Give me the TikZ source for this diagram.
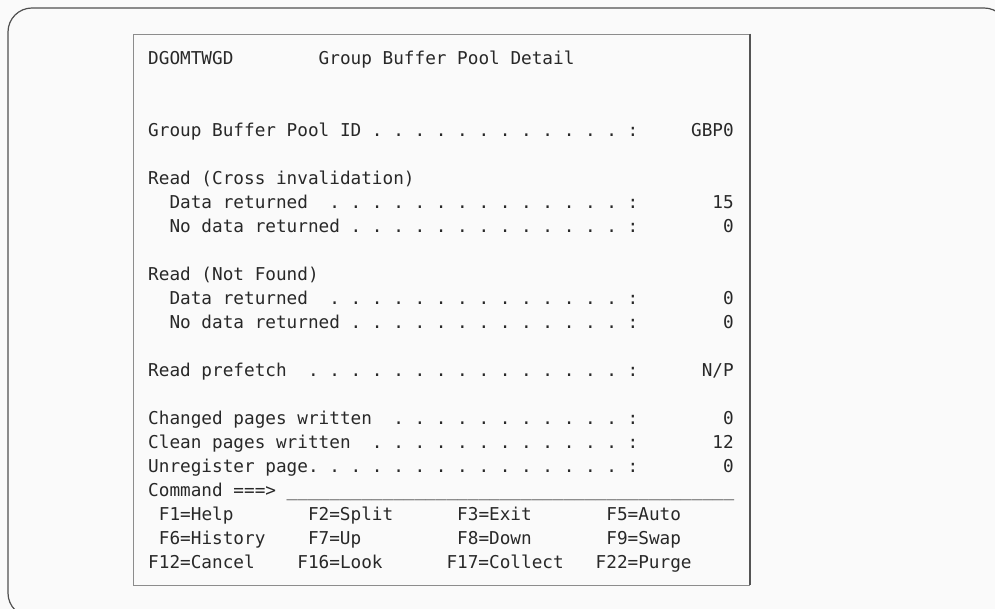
\documentclass[tikz,border=0pt]{standalone}
\usepackage{fontspec}
\usepackage{tikz}
\newfontfamily\scrfont{DejaVu Sans Mono}
\definecolor{paper}{RGB}{250,250,250}
\definecolor{rim}{RGB}{80,80,80}
\definecolor{boxline}{RGB}{140,140,140}
\definecolor{ink}{RGB}{40,40,40}
\newcommand{\scrtext}{\scrfont\fontsize{17.7}{24}\selectfont\frenchspacing}
\tikzset{
  scrline/.style={anchor=base west,inner sep=0pt,text=ink,font=\scrtext},
  scrval/.style={anchor=base east,inner sep=0pt,text=ink,font=\scrtext},
}

\begin{document}
\begin{tikzpicture}[x=1pt,y=-1pt]
\useasboundingbox (0,0) rectangle (995,609);
\clip (0,0) rectangle (995,609);
\fill[paper] (0,0) rectangle (995,609);
%% outer frame
\draw[rim,line width=1.2pt,rounded corners=24pt] (8,8) rectangle (1008,617);
%% screen box
\draw[boxline,line width=0.8pt] (750,34)--(133,34)--(133,585)--(750,585);
\draw[boxline!60!black,line width=2pt] (750,33.6)--(750,585.4);
%% header
\node[scrline] (panel) at (148,64.5) {DGOMTWGD};
\node[scrline] (title) at (318.5,64.5) {Group Buffer Pool Detail};
%% pool id
\node[scrline] (pool) at (148,136.5) {Group Buffer Pool ID . . . . . . . . . . . . :};
\node[scrval] (poolv) at (734,136.5) {GBP0};
%% cross invalidation
\node[scrline] (xi) at (148,184.5) {Read (Cross invalidation)};
\node[scrline] (xidata) at (148,208.5) {~~Data returned~ . . . . . . . . . . . . . . :};
\node[scrval] (xidatav) at (734,208.5) {15};
\node[scrline] (xinone) at (148,232.5) {~~No data returned . . . . . . . . . . . . . :};
\node[scrval] (xinonev) at (734,232.5) {0};
%% not found
\node[scrline] (nf) at (148,280.5) {Read (Not Found)};
\node[scrline] (nfdata) at (148,304.5) {~~Data returned~ . . . . . . . . . . . . . . :};
\node[scrval] (nfdatav) at (734,304.5) {0};
\node[scrline] (nfnone) at (148,328.5) {~~No data returned . . . . . . . . . . . . . :};
\node[scrval] (nfnonev) at (734,328.5) {0};
%% prefetch
\node[scrline] (pref) at (148,376.5) {Read prefetch~ . . . . . . . . . . . . . . . :};
\node[scrval] (prefv) at (734,376.5) {N/P};
%% pages
\node[scrline] (chg) at (148,424.5) {Changed pages written~ . . . . . . . . . . . :};
\node[scrval] (chgv) at (734,424.5) {0};
\node[scrline] (cln) at (148,448.5) {Clean pages written~ . . . . . . . . . . . . :};
\node[scrval] (clnv) at (734,448.5) {12};
\node[scrline] (unreg) at (148,472.5) {Unregister page. . . . . . . . . . . . . . . :};
\node[scrval] (unregv) at (734,472.5) {0};
%% command line
\node[scrline] (cmd) at (148,496.5) {Command ===> \foreach \i in {1,...,42}{\_}};
%% function keys
\node[scrline] (fone) at (158.7,520.5) {F1=Help};
\node[scrline] (ftwo) at (307.8,520.5) {F2=Split};
\node[scrline] (fthree) at (457.0,520.5) {F3=Exit};
\node[scrline] (ffive) at (606.2,520.5) {F5=Auto};
\node[scrline] (fsix) at (158.7,544.5) {F6=History};
\node[scrline] (fseven) at (307.8,544.5) {F7=Up};
\node[scrline] (feight) at (457.0,544.5) {F8=Down};
\node[scrline] (fnine) at (606.2,544.5) {F9=Swap};
\node[scrline] (ftwelve) at (148,568.5) {F12=Cancel};
\node[scrline] (fsixteen) at (297.2,568.5) {F16=Look};
\node[scrline] (fseventeen) at (446.3,568.5) {F17=Collect};
\node[scrline] (ftwentytwo) at (595.5,568.5) {F22=Purge};
\end{tikzpicture}
\end{document}
